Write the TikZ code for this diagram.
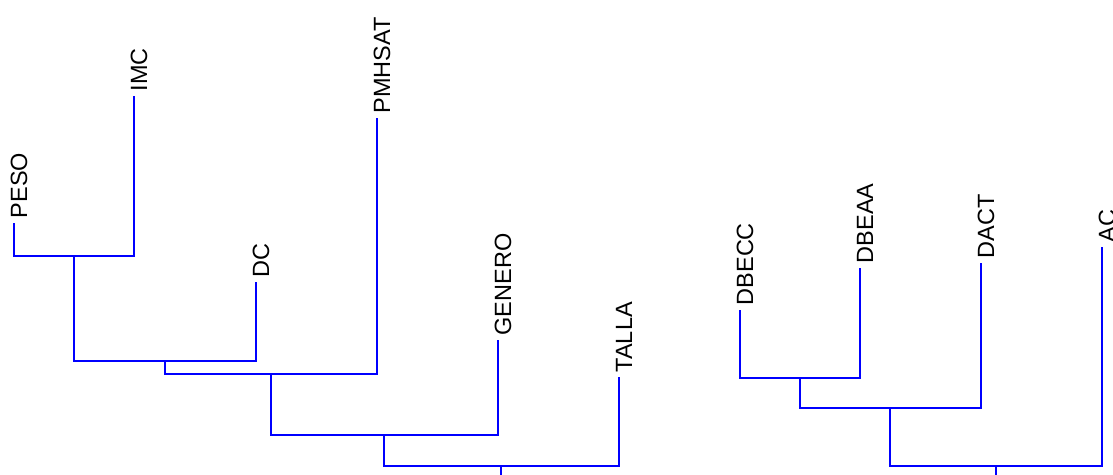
\documentclass[tikz,border=0pt]{standalone}
\usepackage{fontspec}
\setmainfont{Liberation Sans}
\begin{document}
\begin{tikzpicture}[x=1pt,y=-1pt,
  edge/.style={draw={rgb,255:red,0;green,0;blue,255},line width=2pt},
  leaflabel/.style={rotate=90,anchor=west,inner sep=0pt,font=\fontsize{23.5}{28}\selectfont,text=black}]
\useasboundingbox (0,0) rectangle (1113,474);
\clip (0,0) rectangle (1113,474);
% leaf tops
\coordinate (peso) at (14,223);
\coordinate (imc) at (134,96);
\coordinate (dc) at (256,282);
\coordinate (pmhsat) at (377,118);
\coordinate (genero) at (498,340);
\coordinate (talla) at (619,377);
\coordinate (dbecc) at (740,310);
\coordinate (dbeaa) at (860,268);
\coordinate (dact) at (981,263);
\coordinate (ac) at (1102,247);
% merge points
\coordinate (m1) at (74,256);
\coordinate (m2) at (165,361);
\coordinate (m3) at (271,374);
\coordinate (m4) at (384,435);
\coordinate (m5) at (501,466);
\coordinate (r1) at (501,480);
\coordinate (n1) at (800,378);
\coordinate (n2) at (890,408);
\coordinate (n3) at (996,466);
\coordinate (r2) at (996,480);
% labels
\foreach \c/\t in {peso/PESO,imc/IMC,dc/DC,pmhsat/PMHSAT,genero/GENERO,talla/TALLA,dbecc/DBECC,dbeaa/DBEAA,dact/DACT,ac/AC}
  \node[leaflabel] (l\c) at ([shift={(5,-4.5)}]\c) {\t};
% edges
\draw[edge] (peso) |- (m1) -| (imc);
\draw[edge] (m1) |- (m2) -| (dc);
\draw[edge] (m2) |- (m3) -| (pmhsat);
\draw[edge] (m3) |- (m4) -| (genero);
\draw[edge] (m4) |- (m5) -| (talla);
\draw[edge] (m5) -- (r1);
\draw[edge] (dbecc) |- (n1) -| (dbeaa);
\draw[edge] (n1) |- (n2) -| (dact);
\draw[edge] (n2) |- (n3) -| (ac);
\draw[edge] (n3) -- (r2);
\end{tikzpicture}
\end{document}
